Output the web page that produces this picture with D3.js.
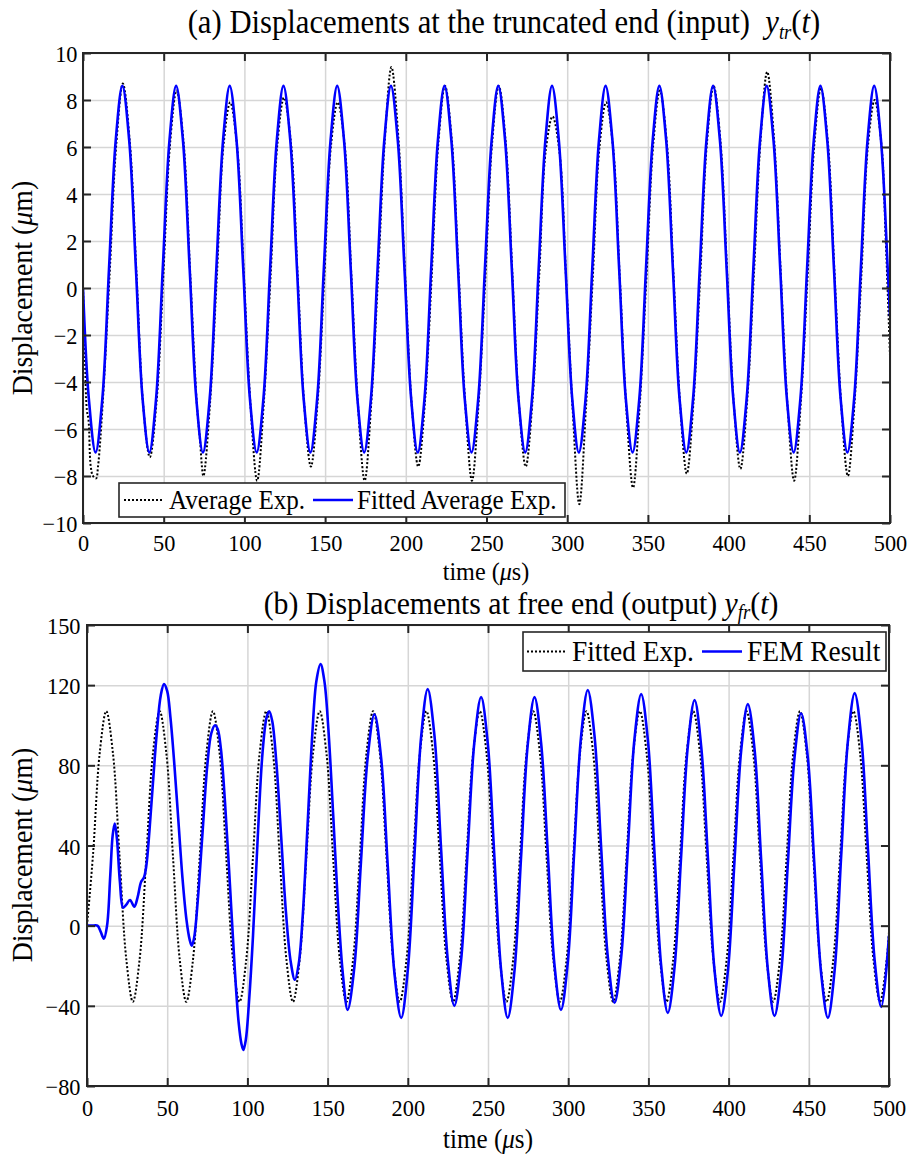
<!DOCTYPE html>
<html><head><meta charset="utf-8">
<script src="https://cdn.jsdelivr.net/npm/d3@7"></script>
<style>body{margin:0;background:#fff} svg text{font-family:'Liberation Serif','Times New Roman',Times,serif;}</style>
</head><body><svg id="c" width="912" height="1155"></svg>
<script>
// ---------------- data ----------------
const timeTicks = [0,50,100,150,200,250,300,350,400,450,500];
const yTicksA = [-10,-8,-6,-4,-2,0,2,4,6,8,10];
const yTicksB = [-80,-40,0,40,80,120,150];

// (a) Average Exp. (dotted) [time us, displacement um]
const averageExp = [[0,0],[1.2,-3.0],[2.4,-5.2],[3.4,-5.6],[4.8,-7.6],[6.2,-8.0],[8.1,-8.1],[9.3,-7.6],[12.3,-4.8],[16.5,0.6],[20.6,6.1],[24.7,8.7],[29.0,6.2],[33.2,0.5],[37.3,-5.0],
[41.4,-7.2],[45.6,-4.8],[49.8,0.6],[53.9,6.1],[58.0,8.4],[62.3,6.2],[66.5,0.5],[70.6,-5.0],
[72.4,-6.4],[74.6,-8.0],[78.8,-4.8],[83.0,0.6],[87.1,6.1],[91.2,7.9],[95.5,6.0],[99.7,0.5],[103.8,-5.0],
[107.9,-8.2],[112.1,-4.8],[116.3,0.6],[120.4,6.1],[124.5,8.1],[128.8,6.2],[133.0,0.5],[137.1,-5.0],
[141.2,-7.6],[145.4,-4.8],[149.6,0.6],[153.7,6.1],[157.8,7.9],[162.1,6.1],[166.3,0.5],[170.4,-5.0],
[174.5,-8.2],[178.7,-4.8],[182.9,0.6],[187.0,6.3],[191.1,9.4],[195.4,6.4],[199.6,0.5],[203.7,-5.0],
[207.7,-7.6],[211.9,-4.8],[216.1,0.6],[220.2,6.2],[224.3,8.6],[228.6,6.2],[232.8,0.5],[236.9,-5.0],
[241.0,-8.2],[245.2,-4.8],[249.4,0.6],[253.5,6.2],[257.6,8.6],[261.9,6.2],[266.1,0.5],[270.2,-5.0],
[274.3,-7.6],[278.5,-4.8],[282.7,0.6],[286.8,5.9],[290.9,7.3],[295.2,5.8],[299.4,0.3],[303.5,-5.3],
[307.5,-9.2],[311.7,-5.0],[315.9,0.5],[320.0,6.0],[324.1,7.9],[328.4,6.0],[332.6,0.4],[336.7,-5.2],
[340.8,-8.5],[345.0,-4.9],[349.2,0.6],[353.3,6.1],[357.4,8.4],[361.7,6.2],[365.9,0.5],[370.0,-5.0],
[374.1,-7.9],[378.3,-4.8],[382.5,0.6],[386.6,6.2],[390.7,8.6],[395.0,6.2],[399.2,0.5],[403.3,-5.0],
[407.3,-7.7],[411.5,-4.8],[415.7,0.6],[419.8,6.3],[423.9,9.2],[428.2,6.3],[432.4,0.5],[436.5,-5.0],
[440.6,-8.2],[444.8,-4.8],[449.0,0.6],[453.1,6.1],[457.2,8.5],[461.5,6.2],[465.7,0.5],[469.8,-5.0],
[473.9,-8.0],[478.1,-4.8],[482.3,0.6],[486.4,6.1],[490.5,8.0],[494.8,6.0],[497.4,2.0],[500,-2.9]];

// (a) Fitted Average Exp. (blue)
const fittedAverageExp = [[0,0],[3.6,-4.7],
[7.8,-7.0],[12.0,-4.7],[16.1,0.8],[20.3,6.3],[24.4,8.6],[28.6,6.3],[32.8,0.8],[36.9,-4.7],
[41.1,-7.0],[45.3,-4.7],[49.4,0.8],[53.6,6.3],[57.7,8.6],[61.9,6.3],[66.1,0.8],[70.2,-4.7],
[74.3,-7.0],[78.5,-4.7],[82.6,0.8],[86.8,6.3],[90.9,8.6],[95.1,6.3],[99.3,0.8],[103.4,-4.7],
[107.6,-7.0],[111.8,-4.7],[115.9,0.8],[120.1,6.3],[124.2,8.6],[128.4,6.3],[132.6,0.8],[136.7,-4.7],
[140.9,-7.0],[145.1,-4.7],[149.2,0.8],[153.4,6.3],[157.5,8.6],[161.7,6.3],[165.9,0.8],[170.0,-4.7],
[174.2,-7.0],[178.4,-4.7],[182.5,0.8],[186.7,6.3],[190.8,8.6],[195.0,6.3],[199.2,0.8],[203.3,-4.7],
[207.4,-7.0],[211.6,-4.7],[215.7,0.8],[219.9,6.3],[224.0,8.6],[228.2,6.3],[232.4,0.8],[236.5,-4.7],
[240.7,-7.0],[244.9,-4.7],[249.0,0.8],[253.2,6.3],[257.3,8.6],[261.5,6.3],[265.7,0.8],[269.8,-4.7],
[274.0,-7.0],[278.2,-4.7],[282.3,0.8],[286.5,6.3],[290.6,8.6],[294.8,6.3],[299.0,0.8],[303.1,-4.7],
[307.2,-7.0],[311.4,-4.7],[315.5,0.8],[319.7,6.3],[323.8,8.6],[328.0,6.3],[332.2,0.8],[336.3,-4.7],
[340.5,-7.0],[344.7,-4.7],[348.8,0.8],[353.0,6.3],[357.1,8.6],[361.3,6.3],[365.5,0.8],[369.6,-4.7],
[373.8,-7.0],[378.0,-4.7],[382.1,0.8],[386.3,6.3],[390.4,8.6],[394.6,6.3],[398.8,0.8],[402.9,-4.7],
[407.0,-7.0],[411.2,-4.7],[415.3,0.8],[419.5,6.3],[423.6,8.6],[427.8,6.3],[432.0,0.8],[436.1,-4.7],
[440.3,-7.0],[444.5,-4.7],[448.6,0.8],[452.8,6.3],[456.9,8.6],[461.1,6.3],[465.3,0.8],[469.4,-4.7],
[473.6,-7.0],[477.8,-4.7],[481.9,0.8],[486.1,6.3],[490.2,8.6],[494.4,6.3],[498.6,0.8],[500,-1.2]];

// (b) Fitted Exp. (dotted)
const fittedExp = [[0,0],[3.8,36],[7.9,86],
[12.0,107],[16.2,85.8],[20.3,34.5],[24.5,-16.8],[28.6,-38],[32.8,-16.8],[37.0,34.5],[41.1,85.8],
[45.3,107],[49.5,85.8],[53.6,34.5],[57.8,-16.8],[61.9,-38],[66.1,-16.8],[70.3,34.5],[74.4,85.8],
[78.5,107],[82.7,85.8],[86.8,34.5],[91.0,-16.8],[95.1,-38],[99.3,-16.8],[103.5,34.5],[107.6,85.8],
[111.8,107],[116.0,85.8],[120.1,34.5],[124.3,-16.8],[128.4,-38],[132.6,-16.8],[136.8,34.5],[140.9,85.8],
[145.1,107],[149.3,85.8],[153.4,34.5],[157.6,-16.8],[161.7,-38],[165.9,-16.8],[170.1,34.5],[174.2,85.8],
[178.4,107],[182.6,85.8],[186.7,34.5],[190.9,-16.8],[195.0,-38],[199.2,-16.8],[203.4,34.5],[207.5,85.8],
[211.6,107],[215.8,85.8],[219.9,34.5],[224.1,-16.8],[228.2,-38],[232.4,-16.8],[236.6,34.5],[240.7,85.8],
[244.9,107],[249.1,85.8],[253.2,34.5],[257.4,-16.8],[261.5,-38],[265.7,-16.8],[269.9,34.5],[274.0,85.8],
[278.2,107],[282.4,85.8],[286.5,34.5],[290.7,-16.8],[294.8,-38],[299.0,-16.8],[303.2,34.5],[307.3,85.8],
[311.4,107],[315.6,85.8],[319.7,34.5],[323.9,-16.8],[328.0,-38],[332.2,-16.8],[336.4,34.5],[340.5,85.8],
[344.7,107],[348.9,85.8],[353.0,34.5],[357.2,-16.8],[361.3,-38],[365.5,-16.8],[369.7,34.5],[373.8,85.8],
[378.0,107],[382.2,85.8],[386.3,34.5],[390.5,-16.8],[394.6,-38],[398.8,-16.8],[403.0,34.5],[407.1,85.8],
[411.2,107],[415.4,85.8],[419.5,34.5],[423.7,-16.8],[427.8,-38],[432.0,-16.8],[436.2,34.5],[440.3,85.8],
[444.5,107],[448.7,85.8],[452.8,34.5],[457.0,-16.8],[461.1,-38],[465.3,-16.8],[469.5,34.5],[473.6,85.8],
[477.8,107],[482.0,85.8],[486.1,34.5],[490.3,-16.8],[494.4,-38],[498.6,-16.8],[500,-3]];

// (b) FEM Result (blue)
const femResult = [[0,0],[3,0],[6.5,0],[8.5,-3],[10.5,-6.5],[12.5,0],[14.5,25],[16,45],[17.3,51],[18.7,43],[20.5,22],[22.5,9],[24.5,10.5],[26.8,12.8],[29.5,9.5],[31.5,14],[33.8,22],[35.5,24],[37,30],[39,48],[41,70],[43.5,96],[46,115],[48,120.5],[50,117],[52,104],[54.5,80],[57,52],[59.5,24],[62,3],[64,-7],[65.3,-10],[66.8,-6],[69,12],[72,46],[75,80],[77.5,96],[79.8,100],[81.5,98],[83.5,88],[86,62],[89,22],[92,-20],[94.5,-48],[96.3,-59],[97.5,-62],[99,-57],[101,-38],[103.5,-5],[106.5,45],[109.5,87],[112,104],[113.6,107],[115.5,102],[118,82],[121,45],[124,7],[127,-18],[129.6,-27],[132,-19],[134.5,5],[137.5,50],[140.5,96],[143,122],[145.6,130.5],[148,122],[150.5,98],[153.5,55],[156.5,10],[159.5,-24],[162.5,-42],
[166.7,-20.5],[170.8,31.8],[175.0,84.0],[179.2,105.5],[183.4,83.4],[187.5,29.8],[191.7,-23.9],[195.9,-46],
[200.0,-22.1],[204.2,36],[208.3,94.1],[212.4,118],[216.6,94.9],[220.7,39],[224.9,-16.9],[229.0,-40],
[233.2,-17.5],[237.3,37],[241.5,91.5],[245.7,114],[249.9,90.6],[254.0,34],[258.2,-22.6],[262.3,-46],
[266.5,-22.6],[270.6,34],[274.8,90.6],[279.0,114],[283.1,91.2],[287.3,36],[291.4,-19.2],[295.5,-42],
[299.7,-18.7],[303.8,37.8],[308.0,94.2],[312.2,117.5],[316.4,94.7],[320.5,39.5],[324.7,-15.7],[328.9,-38.5],
[333.0,-16],[337.2,38.5],[341.3,93],[345.5,115.5],[349.7,92.3],[353.8,36],[358.0,-20.3],[362.1,-43.5],
[366.3,-20.7],[370.4,34.5],[374.6,89.7],[378.8,112.5],[382.9,89.5],[387.1,33.8],[391.2,-22],[395.4,-45],
[399.6,-22.3],[403.7,32.8],[407.9,87.8],[412.0,110.5],[416.2,87.8],[420.3,32.8],[424.5,-22.3],[428.6,-45],
[432.8,-23],[436.9,30.5],[441.1,84],[445.2,106],[449.4,83.8],[453.5,30],[457.7,-23.8],[461.9,-46],
[466.1,-22.3],[470.2,35],[474.4,92.3],[478.6,116],[482.8,93.2],[486.9,37.8],[491.1,-17.7],[495.2,-40.5],
[500,-5]];

// ---------------- drawing ----------------
const svg = d3.select("#c");
const FONT = "'Liberation Serif','Times New Roman',Times,serif";
const SX = 0.93;
const AX = "#262626", GRID = "#d6d6d6";

function addText(g, x, y, size, anchor, parts, rotate) {
  const t = g.append("text")
    .attr("transform", `translate(${x},${y})` + (rotate ? ` rotate(${rotate})` : "") + ` scale(${SX},1)`)
    .attr("text-anchor", anchor).style("font-family", FONT).style("font-size", size + "px")
    .attr("fill", "#000").style("white-space", "pre");
  parts.forEach(p => {
    const s = t.append("tspan").text(p.t);
    if (p.i) s.style("font-style", "italic");
    if (p.fs) s.style("font-size", p.fs + "px");
    if (p.dy) s.attr("dy", p.dy);
  });
  return t;
}

function panel(o) {
  const x = d3.scaleLinear().domain([0, 500]).range([o.l, o.r]);
  const y = d3.scaleLinear().domain(o.yd).range([o.b, o.t]);
  const g = svg.append("g");
  const h = o.b - o.t, w = o.r - o.l;
  g.append("rect").attr("x", o.l).attr("y", o.t).attr("width", w).attr("height", h).attr("fill", "#fff");

  // grid
  const gx = g.append("g").attr("transform", `translate(0,${o.b})`)
    .call(d3.axisBottom(x).tickValues(timeTicks).tickSize(-h).tickFormat(""));
  const gy = g.append("g").attr("transform", `translate(${o.l},0)`)
    .call(d3.axisLeft(y).tickValues(o.yt).tickSize(-w).tickFormat(""));
  [gx, gy].forEach(a => { a.select(".domain").remove(); a.selectAll("line").attr("stroke", GRID).attr("stroke-width", 1.5); });

  // data
  const clipId = "clip" + o.id;
  svg.append("defs").append("clipPath").attr("id", clipId)
    .append("rect").attr("x", o.l).attr("y", o.t).attr("width", w).attr("height", h);
  const line = d3.line().x(d => x(d[0])).y(d => y(d[1])).curve(d3.curveCatmullRom.alpha(0.5));
  const dg = g.append("g").attr("clip-path", `url(#${clipId})`);
  dg.append("path").datum(o.dotted).attr("d", line).attr("fill", "none")
    .attr("stroke", "#000").attr("stroke-width", 2).attr("stroke-dasharray", "2,2");
  dg.append("path").datum(o.solid).attr("d", line).attr("fill", "none")
    .attr("stroke", "#0000ff").attr("stroke-width", 2.6).attr("stroke-linejoin", "round");

  // axes with inward ticks
  const styleAx = (a) => {
    a.select(".domain").remove();
    a.attr("font-family", null).attr("font-size", null);
    a.selectAll("line").attr("stroke", AX).attr("stroke-width", 2);
    a.selectAll("text").style("font-family", FONT).style("font-size", o.tickFs + "px").attr("fill", "#000")
      .attr("transform", `scale(${SX},1)`);
  };
  const ab = g.append("g").attr("transform", `translate(0,${o.b})`)
    .call(d3.axisBottom(x).tickValues(timeTicks).tickSize(-8).tickPadding(o.xPad).tickFormat(d3.format("d")));
  styleAx(ab);
  const at = g.append("g").attr("transform", `translate(0,${o.t})`)
    .call(d3.axisTop(x).tickValues(timeTicks).tickSize(-8).tickFormat(""));
  styleAx(at);
  const al = g.append("g").attr("transform", `translate(${o.l},0)`)
    .call(d3.axisLeft(y).tickValues(o.yt).tickSize(-8).tickPadding(o.yPad).tickFormat(d3.format("d")));
  styleAx(al);
  al.selectAll("text").attr("dy", "0.36em");
  const ar = g.append("g").attr("transform", `translate(${o.r},0)`)
    .call(d3.axisRight(y).tickValues(o.yt).tickSize(-8).tickFormat(""));
  styleAx(ar);
  g.append("rect").attr("x", o.l).attr("y", o.t).attr("width", w).attr("height", h)
    .attr("fill", "none").attr("stroke", AX).attr("stroke-width", 2);

  // legend
  const L = o.leg;
  const lg = g.append("g");
  lg.append("rect").attr("x", L.x).attr("y", L.y).attr("width", L.w).attr("height", L.h)
    .attr("fill", "#fff").attr("stroke", AX).attr("stroke-width", 1.6);
  const ly = L.y + L.h / 2;
  lg.append("line").attr("x1", L.s1[0]).attr("x2", L.s1[1]).attr("y1", ly).attr("y2", ly)
    .attr("stroke", "#000").attr("stroke-width", 2).attr("stroke-dasharray", "2,2");
  lg.append("line").attr("x1", L.s2[0]).attr("x2", L.s2[1]).attr("y1", ly).attr("y2", ly)
    .attr("stroke", "#0000ff").attr("stroke-width", 2.6);
  addText(lg, L.t1, ly + L.fs * 0.32, L.fs, "start", [{t: L.n1}]);
  addText(lg, L.t2, ly + L.fs * 0.32, L.fs, "start", [{t: L.n2}]);

  // labels
  addText(g, o.title.x, o.title.y, o.title.fs, "middle", o.title.parts);
  addText(g, o.xl.x, o.xl.y, o.xl.fs, "middle", [{t: "time ("}, {t: "\u03bc", i: 1}, {t: "s)"}]);
  addText(g, o.yl.x, o.yl.y, o.yl.fs, "middle", [{t: "Displacement ("}, {t: "\u03bc", i: 1}, {t: "m)"}], -90);
}

panel({
  id: "a", l: 83, r: 890, t: 53, b: 523, yd: [-10, 10], yt: yTicksA,
  dotted: averageExp, solid: fittedAverageExp, tickFs: 24, xPad: 11, yPad: 6,
  leg: {x: 119, y: 483, w: 446, h: 34, fs: 27, s1: [124, 163], s2: [313, 353], t1: 169, t2: 357,
        n1: "Average Exp.", n2: "Fitted Average Exp."},
  title: {x: 504, y: 33, fs: 33, parts: [{t: "(a) Displacements at the truncated end (input)  "}, {t: "y", i: 1},
          {t: "tr", i: 1, fs: 20, dy: 6}, {t: "(", dy: -6}, {t: "t", i: 1}, {t: ")"}]},
  xl: {x: 486, y: 580, fs: 26}, yl: {x: 32, y: 288, fs: 30}
});

panel({
  id: "b", l: 87, r: 889, t: 625, b: 1086, yd: [-80, 150], yt: yTicksB,
  dotted: fittedExp, solid: femResult, tickFs: 24, xPad: 13, yPad: 7,
  leg: {x: 523, y: 632, w: 363, h: 39, fs: 29.5, s1: [527, 566], s2: [702, 742], t1: 572, t2: 747,
        n1: "Fitted Exp.", n2: "FEM Result"},
  title: {x: 521, y: 614, fs: 32, parts: [{t: "(b) Displacements at free end (output) "}, {t: "y", i: 1},
          {t: "fr", i: 1, fs: 20, dy: 5}, {t: "(", dy: -5}, {t: "t", i: 1}, {t: ")"}]},
  xl: {x: 488, y: 1148, fs: 27}, yl: {x: 32, y: 855, fs: 30}
});
</script>
</body></html>
